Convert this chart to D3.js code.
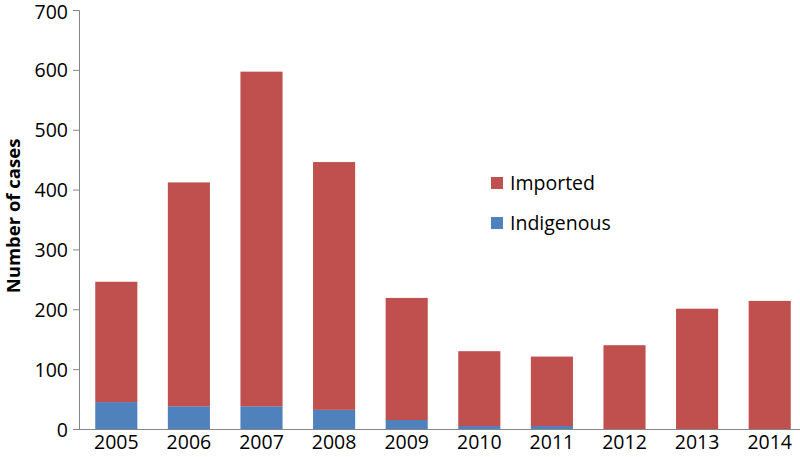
<!DOCTYPE html>
<html>
<head>
<meta charset="utf-8">
<script src="https://cdn.jsdelivr.net/npm/d3@7"></script>
<style>
  body { margin: 0; background: #fff; }
  text { font-family: "Open Sans", sans-serif; fill: #000; }
</style>
</head>
<body>
<svg id="chart" width="800" height="457"></svg>
<script>
// données
const annees = ["2005", "2006", "2007", "2008", "2009", "2010", "2011", "2012", "2013", "2014"];
const totaux = [246, 412, 597, 446, 219, 130, 121, 140, 201, 214];
const indigenes = [45, 38, 38, 32, 15, 5, 5, 0, 0, 0];
const graduations = [0, 100, 200, 300, 400, 500, 600, 700];

const rouge = "#C0504D";
const bleu = "#4F81BD";

const svg = d3.select("#chart");

// échelles
const x = d3.scaleBand().domain(annees).range([80, 806]).paddingInner(0.42).paddingOuter(0.21);
const y = d3.scaleLinear().domain([0, 700]).range([429, 10]);

// barres empilées : indigènes en bas, importés au dessus
const lignes = annees.map((a, i) => ({ annee: a, indigene: indigenes[i], importe: totaux[i] - indigenes[i] }));
const pile = d3.stack().keys(["indigene", "importe"])(lignes);
const couleurs = { indigene: bleu, importe: rouge };

svg.selectAll("g.serie")
  .data(pile)
  .join("g")
  .attr("class", "serie")
  .attr("fill", d => couleurs[d.key])
  .selectAll("rect")
  .data(d => d)
  .join("rect")
  .attr("x", d => x(d.data.annee))
  .attr("width", x.bandwidth())
  .attr("y", d => y(d[1]))
  .attr("height", d => y(d[0]) - y(d[1]));

// axe vertical
const axeY = svg.append("g")
  .attr("transform", "translate(79,0)")
  .call(d3.axisLeft(y).tickValues(graduations).tickSize(6).tickPadding(5));
axeY.select(".domain").attr("stroke", "#868686");
axeY.selectAll(".tick line").attr("stroke", "#868686");
axeY.selectAll("text").style("font-size", "19.5px").attr("fill", "#000").attr("dy", "0.36em");
// le 700 touche le bord, on le descend un peu
axeY.selectAll(".tick text").filter(d => d === 700).attr("dy", "0.45em");

// axe horizontal
const axeX = svg.append("g")
  .attr("transform", "translate(0,429)")
  .call(d3.axisBottom(x).tickSize(0).tickPadding(5));
axeX.select(".domain").attr("stroke", "#868686").attr("d", "M73,0.5H806");
axeX.selectAll("text").style("font-size", "19.5px").attr("fill", "#000").attr("dy", "0.75em");

// titre de l'axe
svg.append("text")
  .attr("transform", "translate(20,216) rotate(-90)")
  .attr("text-anchor", "middle")
  .style("font-size", "18.5px")
  .style("font-weight", "bold")
  .text("Number  of cases");

// légende
const legende = [{ nom: "Imported", c: rouge }, { nom: "Indigenous", c: bleu }];
const gl = svg.selectAll("g.legende")
  .data(legende)
  .join("g")
  .attr("class", "legende")
  .attr("transform", (d, i) => `translate(491,${177 + i * 40})`);
gl.append("rect").attr("width", 12).attr("height", 12).attr("fill", d => d.c);
gl.append("text").attr("x", 19).attr("y", 13).style("font-size", "19.5px").text(d => d.nom);
</script>
</body>
</html>
